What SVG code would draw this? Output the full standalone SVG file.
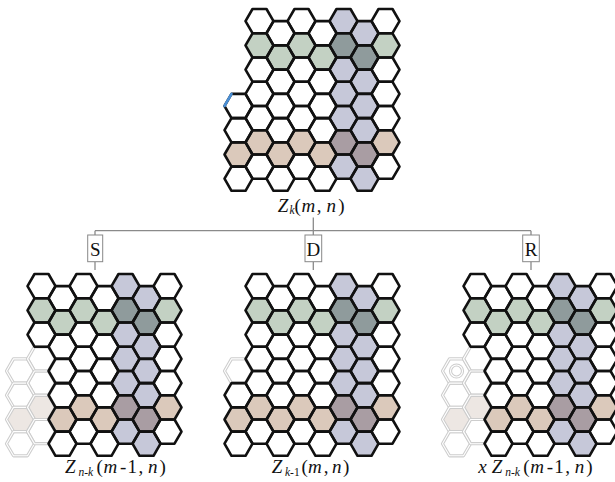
<svg xmlns="http://www.w3.org/2000/svg" width="615" height="482" viewBox="0 0 615 482">
<style>
.g{fill:#c3d1c3}.l{fill:#c6c8d9}.dg{fill:#8f9b9c}.b{fill:#dbc9bb}.db{fill:#a99da3}.fb{fill:#ede7e3}
.k{fill:none;stroke:#111;stroke-width:2.6;stroke-linejoin:round}
.fo{fill:none;stroke:#cdcdcd;stroke-width:3.2;stroke-linejoin:round}
.fi{fill:none;stroke:#fff;stroke-width:1.1;stroke-linejoin:round}
.ln{fill:none;stroke:#8a8a8a;stroke-width:1.3}
.box{fill:#fff;stroke:#888;stroke-width:1}
.t{font-family:"Liberation Serif","Times New Roman",serif;font-size:19px;fill:#111}
.i{font-style:italic}
.s{font-size:11.5px}
.bl{font-family:"Liberation Serif","Times New Roman",serif;font-size:19px;fill:#111;text-anchor:middle}
</style>
<defs>
<path id="h" d="M14,0L7,12.12L-7,12.12L-14,0L-7,-12.12L7,-12.12Z"/>
<g id="fh"><use href="#h" class="fo"/><use href="#h" class="fi"/></g>
<g id="cf">
<use href="#h" x="259.5" y="45.4" class="g"/><use href="#h" x="280.5" y="57.5" class="g"/><use href="#h" x="301.5" y="45.4" class="g"/><use href="#h" x="322.5" y="57.5" class="g"/><use href="#h" x="385.5" y="45.4" class="g"/>
<use href="#h" x="343.5" y="45.4" class="dg"/><use href="#h" x="364.5" y="57.5" class="dg"/>
<use href="#h" x="343.5" y="21.1" class="l"/><use href="#h" x="343.5" y="69.6" class="l"/><use href="#h" x="343.5" y="93.9" class="l"/><use href="#h" x="343.5" y="118.1" class="l"/><use href="#h" x="343.5" y="166.6" class="l"/>
<use href="#h" x="364.5" y="33.2" class="l"/><use href="#h" x="364.5" y="81.7" class="l"/><use href="#h" x="364.5" y="106" class="l"/><use href="#h" x="364.5" y="130.2" class="l"/><use href="#h" x="364.5" y="178.7" class="l"/>
<use href="#h" x="280.5" y="154.5" class="b"/><use href="#h" x="301.5" y="142.4" class="b"/><use href="#h" x="322.5" y="154.5" class="b"/><use href="#h" x="385.5" y="142.4" class="b"/>
<use href="#h" x="343.5" y="142.4" class="db"/><use href="#h" x="364.5" y="154.5" class="db"/>
</g>
<g id="cs" class="k">
<use href="#h" x="259.5" y="21.1"/><use href="#h" x="259.5" y="45.4"/><use href="#h" x="259.5" y="69.6"/>
<use href="#h" x="280.5" y="33.2"/><use href="#h" x="280.5" y="57.5"/><use href="#h" x="280.5" y="81.7"/><use href="#h" x="280.5" y="106"/><use href="#h" x="280.5" y="130.2"/><use href="#h" x="280.5" y="154.5"/><use href="#h" x="280.5" y="178.7"/>
<use href="#h" x="301.5" y="21.1"/><use href="#h" x="301.5" y="45.4"/><use href="#h" x="301.5" y="69.6"/><use href="#h" x="301.5" y="93.9"/><use href="#h" x="301.5" y="118.1"/><use href="#h" x="301.5" y="142.4"/><use href="#h" x="301.5" y="166.6"/>
<use href="#h" x="322.5" y="33.2"/><use href="#h" x="322.5" y="57.5"/><use href="#h" x="322.5" y="81.7"/><use href="#h" x="322.5" y="106"/><use href="#h" x="322.5" y="130.2"/><use href="#h" x="322.5" y="154.5"/><use href="#h" x="322.5" y="178.7"/>
<use href="#h" x="343.5" y="21.1"/><use href="#h" x="343.5" y="45.4"/><use href="#h" x="343.5" y="69.6"/><use href="#h" x="343.5" y="93.9"/><use href="#h" x="343.5" y="118.1"/><use href="#h" x="343.5" y="142.4"/><use href="#h" x="343.5" y="166.6"/>
<use href="#h" x="364.5" y="33.2"/><use href="#h" x="364.5" y="57.5"/><use href="#h" x="364.5" y="81.7"/><use href="#h" x="364.5" y="106"/><use href="#h" x="364.5" y="130.2"/><use href="#h" x="364.5" y="154.5"/><use href="#h" x="364.5" y="178.7"/>
<use href="#h" x="385.5" y="21.1"/><use href="#h" x="385.5" y="45.4"/><use href="#h" x="385.5" y="69.6"/><use href="#h" x="385.5" y="93.9"/><use href="#h" x="385.5" y="118.1"/><use href="#h" x="385.5" y="142.4"/><use href="#h" x="385.5" y="166.6"/>
</g>
<g id="xk1" class="k"><use href="#h" x="259.5" y="93.9"/><use href="#h" x="259.5" y="118.1"/><use href="#h" x="259.5" y="142.4"/><use href="#h" x="259.5" y="166.6"/></g>
<g id="xk0" class="k"><use href="#h" x="238.5" y="130.2"/><use href="#h" x="238.5" y="154.5"/><use href="#h" x="238.5" y="178.7"/></g>
<g id="fcols"><use href="#fh" x="238.5" y="106"/><use href="#fh" x="238.5" y="130.2"/><use href="#fh" x="238.5" y="154.5"/><use href="#fh" x="238.5" y="178.7"/><use href="#fh" x="259.5" y="93.9"/><use href="#fh" x="259.5" y="118.1"/><use href="#fh" x="259.5" y="142.4"/><use href="#fh" x="259.5" y="166.6"/></g>
</defs>
<rect width="615" height="482" fill="#fff"/>

<g id="grid-top">
<use href="#cf"/>
<use href="#h" x="259.5" y="142.4" class="b"/><use href="#h" x="238.5" y="154.5" class="b"/>
<use href="#cs"/><use href="#xk1"/><use href="#xk0"/>
<use href="#h" x="238.5" y="106" class="k"/>
<line x1="224.5" y1="106" x2="231.5" y2="93.9" stroke="#4a8fd6" stroke-width="2.6" stroke-linecap="round"/>
<text class="t" y="211.5"><tspan x="277.7" class="i">Z</tspan><tspan x="289.4" dy="2.5" class="i s">k</tspan><tspan x="294.5" dy="-2.5">(</tspan><tspan x="301.4" class="i">m</tspan><tspan x="316.8">,</tspan><tspan x="326.5" class="i">n</tspan><tspan x="338.2">)</tspan></text>
</g>

<g id="connectors" class="ln">
<path d="M313.3,217.5V230.7M95,230.7H531M95,230.7V235M313.3,230.7V235M531,230.7V235M95,261.7V270M313.3,261.7V270M531,261.7V270"/>
</g>

<g id="node-S"><rect class="box" x="87.7" y="235" width="15" height="26.7"/><text class="bl" x="95.2" y="256">S</text></g>
<g id="node-D"><rect class="box" x="305" y="235" width="16.7" height="26.7"/><text class="bl" x="313.3" y="256">D</text></g>
<g id="node-R"><rect class="box" x="522.7" y="235" width="16.6" height="26.7"/><text class="bl" x="531" y="256">R</text></g>

<g id="grid-S">
<g transform="translate(-218,265)">
<use href="#cf"/>
<use href="#h" x="259.5" y="142.4" class="fb"/><use href="#h" x="238.5" y="154.5" class="fb"/>
<use href="#fcols"/>
<use href="#cs"/>
</g>
<text class="t" y="473"><tspan x="65" class="i">Z</tspan><tspan x="78.5" dy="2.5" class="i s">n</tspan><tspan class="s">-</tspan><tspan class="i s">k</tspan><tspan x="96.5" dy="-2.5">(</tspan><tspan x="103.5" class="i">m</tspan><tspan x="120">-</tspan><tspan x="127.5">1</tspan><tspan x="138.5">,</tspan><tspan x="148" class="i">n</tspan><tspan x="159.5">)</tspan></text>
</g>

<g id="grid-D">
<g transform="translate(0,265)">
<use href="#cf"/>
<use href="#h" x="259.5" y="142.4" class="b"/><use href="#h" x="238.5" y="154.5" class="b"/>
<use href="#fh" x="238.5" y="106"/>
<use href="#cs"/><use href="#xk1"/><use href="#xk0"/>
</g>
<text class="t" y="473"><tspan x="271.7" class="i">Z</tspan><tspan x="285" dy="2.5" class="i s">k</tspan><tspan class="s">-1</tspan><tspan x="301.5" dy="-2.5">(</tspan><tspan x="308" class="i">m</tspan><tspan x="323.8">,</tspan><tspan x="332" class="i">n</tspan><tspan x="343">)</tspan></text>
</g>

<g id="grid-R">
<g transform="translate(218,265)">
<use href="#cf"/>
<use href="#h" x="259.5" y="142.4" class="fb"/><use href="#h" x="238.5" y="154.5" class="fb"/>
<use href="#fcols"/>
<circle cx="238.5" cy="106" r="6" class="fo"/><circle cx="238.5" cy="106" r="6" class="fi"/>
<use href="#cs"/>
</g>
<text class="t" y="473"><tspan x="478.3" class="i">x</tspan><tspan x="491.7" class="i">Z</tspan><tspan x="505.2" dy="2.5" class="i s">n</tspan><tspan class="s">-</tspan><tspan class="i s">k</tspan><tspan x="523.2" dy="-2.5">(</tspan><tspan x="530.2" class="i">m</tspan><tspan x="546.7">-</tspan><tspan x="554.2">1</tspan><tspan x="565.2">,</tspan><tspan x="574.7" class="i">n</tspan><tspan x="586.2">)</tspan></text>
</g>
</svg>
